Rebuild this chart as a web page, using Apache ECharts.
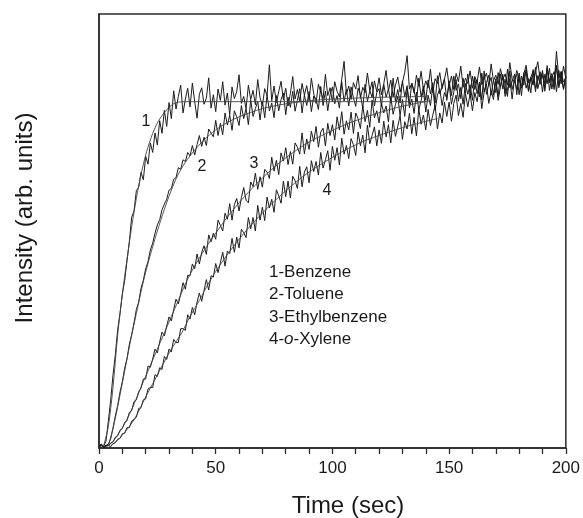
<!DOCTYPE html>
<html>
<head>
<meta charset="utf-8">
<script src="https://cdn.jsdelivr.net/npm/echarts@6/dist/echarts.min.js"></script>
<style>html,body{margin:0;padding:0;background:#fff}#c{width:583px;height:518px}</style>
</head>
<body>
<div id="c"></div>
<script>
// Time axis: one measured value per second, t = 0..200
const xTicks = [0, 50, 100, 150, 200];
const seriesNames = ['1-Benzene', '2-Toluene', '3-Ethylbenzene', '4-o-Xylene'];
const curveLabels = ['1', '2', '3', '4'];

const benzene = [
0.5,0.9,0.4,1.6,6.2,11.0,16.8,21.5,27.3,31.0,
35.4,38.6,43.1,47.5,53.2,54.6,59.3,60.1,63.5,61.8,
67.2,65.4,70.3,68.1,72.6,69.8,75.4,72.5,77.8,74.1,
79.6,75.9,82.3,78.1,81.0,83.6,77.2,80.4,82.9,78.6,
84.1,79.8,76.0,81.5,83.0,79.2,80.6,85.3,78.3,81.4,
77.5,82.7,80.1,84.4,79.0,81.8,76.8,83.2,80.5,82.1,
86.0,79.4,81.0,78.2,83.6,80.3,82.4,79.1,84.9,80.7,
78.9,82.8,81.2,88.3,80.0,83.4,79.6,82.1,84.5,80.2,
82.9,78.8,81.7,85.6,80.4,82.6,79.9,84.0,81.3,83.5,
80.1,85.2,81.6,79.4,83.8,82.0,80.5,86.1,81.2,83.0,
79.8,84.4,82.2,80.9,85.0,89.1,81.5,83.4,80.3,84.2,
82.7,85.8,80.6,83.1,81.9,86.4,82.4,80.8,84.6,82.1,
85.3,81.4,83.9,87.0,82.3,84.8,80.9,83.6,85.5,82.0,
84.2,86.6,90.4,82.7,84.0,81.8,85.9,83.3,86.8,82.5,
84.6,83.0,87.3,81.9,85.1,84.0,86.5,82.8,84.9,87.6,
83.4,85.7,82.6,86.3,84.4,88.0,83.1,85.2,84.0,86.9,
82.9,85.6,84.3,87.8,83.7,85.0,86.4,83.5,88.5,84.6,
85.9,83.8,87.4,84.9,86.2,83.6,88.8,85.1,84.3,87.0,
85.0,83.4,86.1,88.2,84.1,85.4,83.9,86.6,89.0,84.7,
85.8,84.0,87.5,84.6,86.3,83.7,91.4,85.2,86.8,84.3,
85.4];

const toluene = [
0.4,0.7,0.3,0.6,0.9,2.1,4.6,7.4,9.8,12.9,
15.2,18.4,20.6,23.9,26.1,28.8,31.9,33.6,36.8,38.7,
41.3,43.0,45.6,47.2,49.5,51.4,52.6,54.9,56.2,57.3,
59.4,59.8,61.9,62.3,64.6,64.2,66.4,66.0,68.1,67.3,
69.7,67.5,69.9,72.0,69.5,71.6,69.7,73.5,72.6,71.7,
75.5,72.0,74.8,72.2,77.2,74.4,76.7,73.2,77.7,76.3,
74.3,78.9,75.9,78.2,74.5,80.2,76.4,78.2,79.9,75.6,
79.9,76.1,81.3,77.7,79.5,76.1,81.2,77.7,80.3,81.8,
76.8,80.8,78.5,82.2,77.6,80.1,82.8,77.2,81.3,78.9,
82.1,77.5,81.1,80.4,78.0,83.3,78.9,82.2,77.7,81.4,
83.2,79.3,81.2,78.3,84.3,79.9,82.6,78.8,83.2,80.7,
78.7,82.9,81.4,78.3,83.8,79.9,82.2,84.4,78.8,81.9,
82.8,78.7,83.8,80.8,82.7,79.5,85.2,79.9,82.6,79.5,
84.6,80.9,83.5,79.3,84.1,82.3,79.7,85.2,80.9,83.4,
80.1,84.8,81.6,84.2,79.5,85.8,81.6,83.2,85.1,80.1,
84.6,81.2,85.7,82.4,83.9,80.5,85.2,81.8,86.2,81.2,
85.7,82.6,84.8,80.9,86.4,82.0,84.2,85.9,81.3,84.8,
81.9,86.5,83.2,85.6,81.6,87.3,83.0,84.4,86.1,81.4,
86.4,82.9,85.2,87.0,82.2,85.5,83.6,87.7,82.8,85.1,
86.5,82.2,87.3,84.1,85.7,82.6,87.8,83.5,86.6,82.9,
85.4];

const ethylbenzene = [
0.3,0.7,0.2,0.6,0.5,1.2,1.4,2.5,2.8,4.1,
4.5,5.9,6.3,8.2,8.6,10.7,11.1,13.0,13.8,15.9,
15.9,18.9,18.6,20.5,22.8,21.9,24.5,26.7,25.8,28.1,
30.2,29.3,31.9,34.3,33.2,35.5,38.1,36.6,39.8,39.7,
42.4,41.3,44.7,42.4,45.1,46.6,44.6,49.1,47.5,49.5,
48.1,52.5,51.3,50.0,54.1,52.7,56.3,52.5,56.1,57.5,
54.6,57.7,60.0,57.1,56.5,61.3,60.2,63.3,59.6,62.5,
60.1,64.2,63.6,62.1,67.0,63.8,66.3,63.0,68.0,66.1,
69.2,65.3,68.3,65.4,70.3,69.3,67.7,72.6,67.8,71.2,
68.8,73.0,70.6,74.1,69.3,72.8,73.7,69.6,74.8,72.0,
74.5,71.0,76.3,73.3,77.5,72.3,75.4,73.3,77.4,72.5,
77.2,75.9,73.6,78.9,75.2,77.8,73.9,80.2,76.1,77.7,
74.9,79.4,77.2,78.8,75.1,81.0,76.9,79.1,81.0,76.6,
80.3,76.4,82.8,78.4,80.4,77.1,82.0,77.9,80.0,82.6,
77.4,81.3,78.9,83.3,77.8,81.3,82.8,78.9,81.9,80.6,
83.9,79.2,82.0,84.9,79.9,83.1,79.2,84.0,81.5,83.7,
80.1,85.3,81.6,84.3,80.2,86.9,81.5,83.8,85.4,81.3,
85.1,81.0,86.2,82.7,85.0,81.0,86.9,82.6,84.8,86.1,
81.4,85.7,83.6,87.2,82.2,85.4,86.9,82.1,85.8,83.8,
87.0,82.8,88.1,82.4,85.4,86.7,82.1,87.0,83.9,88.0,
85.2];

const oxylene = [
0.2,0.5,0.1,0.4,0.6,0.3,1.0,1.2,2.0,2.2,
3.3,3.4,4.7,4.7,6.2,6.6,7.1,9.1,9.3,11.1,
11.3,13.6,14.0,13.9,16.9,16.5,18.5,18.1,21.1,20.4,
22.8,22.1,25.0,24.3,24.3,27.5,27.5,27.1,30.7,29.7,
32.4,30.7,33.6,35.7,33.8,36.3,38.8,36.4,39.7,39.4,
42.5,40.4,42.7,45.1,41.9,45.4,44.8,48.3,45.1,48.6,
46.1,50.4,49.6,48.5,53.1,50.5,53.1,50.0,55.9,52.5,
55.5,52.4,57.8,55.3,57.3,54.3,59.5,58.1,56.4,61.5,
57.9,61.5,57.6,62.6,61.6,59.8,64.9,60.2,63.6,64.8,
61.1,66.2,63.7,66.0,62.9,68.1,64.5,66.4,68.5,64.0,
69.5,66.3,69.2,65.2,71.4,67.7,69.7,66.7,71.3,69.9,
67.4,72.8,69.6,72.1,68.0,74.4,70.1,72.0,74.0,69.6,
73.3,70.2,75.3,71.7,74.5,70.3,75.5,71.8,74.1,76.6,
71.1,75.2,73.5,77.1,72.4,76.2,71.9,78.2,74.6,76.7,
73.3,78.0,74.3,76.7,78.9,73.5,77.2,74.9,79.7,76.4,
79.7,75.3,79.4,81.3,76.6,79.4,76.2,81.7,78.6,81.6,
77.7,81.9,79.8,83.8,78.2,82.0,83.8,79.4,82.3,80.3,
84.5,80.1,83.2,86.1,81.0,82.5,85.1,80.4,85.0,82.6,
85.4,81.2,86.5,82.9,85.1,81.8,87.2,82.9,84.8,86.7,
82.0,86.1,83.9,87.5,82.7,85.5,88.2,83.0,86.1,82.6,
85.6];

// Smooth fitted curves, read as [time, value] points
const fitBenzene = [[2,0.5],[4,5],[6,14],[8,26],[10,35.5],[12,43.5],[14,51],[16,57.5],[18,63],[20,67.5],[22,71],[24,73.8],[26,75.8],[28,77.3],[30,78.5],[32,79.3],[34,79.7],[40,79.8],[140,79.8]];
const fitToluene = [[4,0.5],[6,4.5],[8,9.5],[10,15],[12,20.5],[14,26],[16,31],[18,36],[20,40.5],[22,44.5],[25,50],[28,55],[30,58],[33,62],[36,65],[40,68],[45,71],[50,73.3],[55,75],[60,76.3],[70,78.2],[80,79.3],[90,80],[100,80.4],[120,80.8],[140,81]];
const fitEthylbenzene = [[4,0.5],[6,1.5],[8,3],[10,4.7],[12,6.6],[14,8.9],[16.5,12],[19,15.3],[22,19],[25,22.8],[27.6,26],[31,30.3],[34,34],[37,37.8],[40,41],[45,45.5],[50,49.5],[55,53.2],[60,56.5],[65,59.5],[72,63.2],[78,66],[84,68.4],[90,70.5],[97,72.4],[105,74.4],[114,76.2],[121,77.4],[128,78.5],[135,79.3],[142,80]];
const fitOxylene = [[5,0.5],[8,1.8],[10,3],[12.5,4.6],[15,6.5],[17.5,9],[20,11.8],[24,15.8],[27.6,19.5],[31,22.8],[35.5,26.6],[39,30.3],[43,34],[47,38],[51,41.5],[56,45.3],[62,49.4],[68,53],[75,56.8],[82,60.2],[89,63.2],[97,66],[105,68.5],[113,70.6],[122,72.4],[130,73.8],[138,75],[145,75.9]];

const FONT = '"Liberation Sans", Arial, sans-serif';
const toPairs = arr => arr.map((v, i) => [i, v]);

const chart = echarts.init(document.getElementById('c'), null, {renderer: 'canvas'});

const dataSets = [benzene, toluene, ethylbenzene, oxylene];
const fitSets = [fitBenzene, fitToluene, fitEthylbenzene, fitOxylene];
const series = [];
dataSets.forEach((d, k) => {
  series.push({
    name: seriesNames[k], type: 'line', data: toPairs(d), showSymbol: false, z: 2,
    lineStyle: {color: '#1c1c1c', width: 1}, silent: true
  });
});
fitSets.forEach((d, k) => {
  series.push({
    name: seriesNames[k] + ' fit', type: 'line', data: d, showSymbol: false, smooth: 0.3, z: 3,
    lineStyle: {color: '#444', width: 0.9}, silent: true
  });
});

const label = (x, y, text, size, align) => ({
  type: 'text', x: x, y: y,
  style: {text: text, font: size + 'px ' + FONT, fill: '#1a1a1a', textAlign: align || 'center', textVerticalAlign: 'middle'}
});

chart.setOption({
  animation: false,
  backgroundColor: '#fff',
  grid: {left: 99, right: 12, top: 14, bottom: 70, show: true, borderColor: '#2a2a2a', borderWidth: 1.5},
  xAxis: {
    type: 'value', min: 0, max: 200, interval: 10,
    axisLine: {show: true, lineStyle: {color: '#2a2a2a', width: 1.5}},
    axisTick: {show: true, length: 6, lineStyle: {color: '#2a2a2a', width: 1.3}},
    axisLabel: {
      color: '#1a1a1a', fontSize: 17, fontFamily: FONT, margin: 12,
      formatter: v => (xTicks.indexOf(v) >= 0 ? String(v) : '')
    },
    splitLine: {show: false}
  },
  yAxis: {
    type: 'value', min: 0, max: 100,
    axisLine: {show: true, lineStyle: {color: '#2a2a2a', width: 1.5}},
    axisTick: {show: false}, axisLabel: {show: false}, splitLine: {show: false}
  },
  series: series,
  graphic: [
    label(348, 506, 'Time (sec)', 24),
    Object.assign(label(25, 218, 'Intensity (arb. units)', 24), {rotation: Math.PI / 2}),
    label(146, 122, curveLabels[0], 16),
    label(202, 167, curveLabels[1], 16),
    label(254, 164, curveLabels[2], 16),
    label(327, 191, curveLabels[3], 16),
    label(269, 272, seriesNames[0], 17, 'left'),
    label(269, 294.5, seriesNames[1], 17, 'left'),
    label(269, 317, seriesNames[2], 17, 'left'),
    {type: 'text', x: 269, y: 339.5, style: {
      text: '{a|4-}{i|o}{a|-Xylene}', textVerticalAlign: 'middle',
      rich: {
        a: {font: '17px ' + FONT, fill: '#1a1a1a'},
        i: {font: 'italic 17px ' + FONT, fill: '#1a1a1a'}
      }
    }}
  ]
});
</script>
</body>
</html>
